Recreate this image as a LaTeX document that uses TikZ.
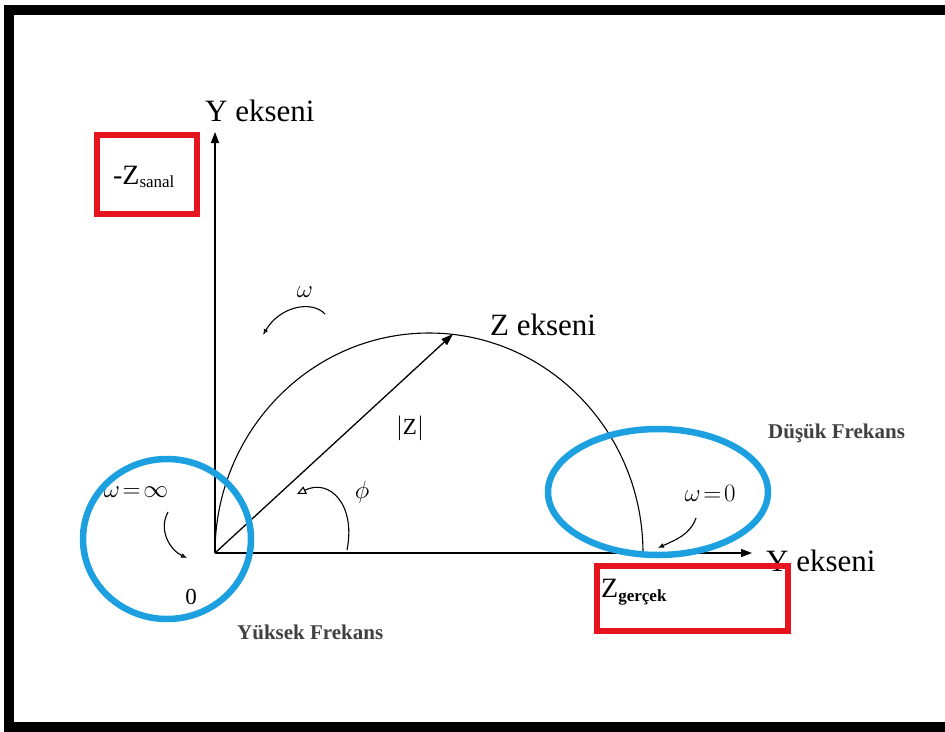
\documentclass[tikz,border=0pt]{standalone}
\usepackage{fontspec}
\setmainfont{Liberation Serif}
\usetikzlibrary{arrows.meta}
\definecolor{ringblue}{RGB}{28,160,224}
\definecolor{boxred}{RGB}{230,20,30}
\begin{document}
\begin{tikzpicture}[x=1pt,y=-1pt,
  axisline/.style={line width=1.3pt,-{Triangle[length=11pt,width=8pt]}},
  thinline/.style={line width=1.1pt},
  bluering/.style={draw=ringblue,line width=6.5pt},
  redbox/.style={draw=boxred,line width=6.5pt},
  bigtxt/.style={font=\fontsize{31}{34}\selectfont,inner sep=0pt},
  midtxt/.style={font=\fontsize{23}{26}\selectfont,inner sep=0pt},
  smalltxt/.style={font=\fontsize{21}{24}\selectfont\bfseries,text=black!75,inner sep=0pt},
  curvearrow/.style={line width=1.1pt,-{Latex[open,length=6pt,width=5pt]}}]
\useasboundingbox (0,0) rectangle (945,731);
\fill[white] (0,0) rectangle (945,731);
% outer frame (open on the right)
\draw[line width=10pt] (945,10) -- (9,10) -- (9,727) -- (945,727);
% coordinates
\coordinate (O) at (215,553);
\coordinate (Ytop) at (215,132);
\coordinate (Xend) at (752,553);
\coordinate (Rend) at (643,553);
\coordinate (Ztip) at (453,334);
% semicircle
\draw[thinline] (O) arc[start angle=180,end angle=360,x radius=214,y radius=220];
% axes
\draw[axisline] (O) -- (Ytop);
\draw[axisline] (O) -- (Xend);
% |Z| vector
\draw[line width=1.3pt,-{Triangle[length=12pt,width=8pt]}] (O) -- (Ztip);
% phi arc
\coordinate (phiS) at (347,550);
\coordinate (phiE) at (297,494);
\draw[thinline,-{Triangle[open,length=9pt,width=8pt]}] (phiS) .. controls (356,505) and (330,478) .. (phiE);
% omega arrow upper
\coordinate (wS) at (325,314);
\coordinate (wE) at (263,335);
\draw[curvearrow] (wS) .. controls (312,300) and (280,306) .. (wE);
% labels
\node[bigtxt,anchor=south west] (ylab) at (205,122) {Y ekseni};
\node[bigtxt,anchor=south west] (zlab) at (490,336) {Z ekseni};
\node[bigtxt,anchor=base west] (xlab) at (766,571) {Y ekseni};
\node[midtxt] (absz) at (410,428) {$|$Z$|$};
\node[midtxt] (phi) at (362,492) {$\phi$};
\node[midtxt] (omg) at (305,292) {$\omega$};
\node[midtxt] (winf) at (136,492) {$\omega\!=\!\infty$};
\node[midtxt] (zero) at (191,597) {0};
\node[midtxt] (w0) at (710,493) {$\omega\!=\!0$};
\node[smalltxt,anchor=west] (dusuk) at (768,433) {Düşük Frekans};
\node[smalltxt,anchor=west] (yuksek) at (237,632) {Yüksek Frekans};
% small curved arrows
\coordinate (aS) at (168,512);
\coordinate (aE) at (187,558);
\draw[curvearrow] (aS) .. controls (158,530) and (170,550) .. (aE);
\coordinate (bS) at (696,518);
\coordinate (bE) at (658,548);
\draw[curvearrow] (bS) .. controls (690,535) and (675,540) .. (bE);
% blue ellipses
\draw[bluering] (167,539) ellipse[x radius=84,y radius=80];
\draw[bluering] (658,492) ellipse[x radius=110,y radius=63];
% red boxes
\draw[redbox] (97,135) rectangle (197,214);
\node[font=\fontsize{28}{30}\selectfont,inner sep=0pt] (zs) at (144,177) {-Z\textsubscript{\fontsize{17}{18}\selectfont sanal}};
\draw[redbox] (597,566) rectangle (788,631);
\node[font=\fontsize{28}{30}\selectfont,inner sep=0pt,anchor=west] (zg) at (601,592) {Z\textsubscript{\fontsize{17}{18}\selectfont\bfseries gerçek}};
\end{tikzpicture}
\end{document}
